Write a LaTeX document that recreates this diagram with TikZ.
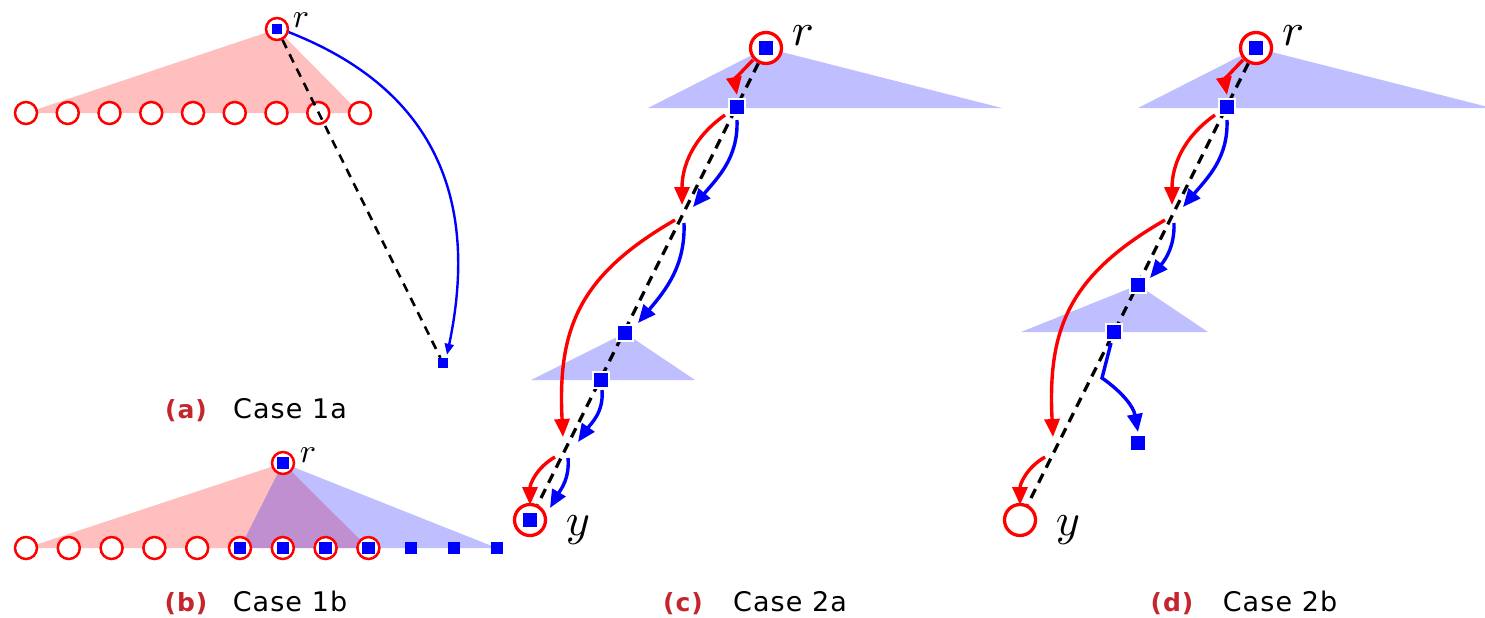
\documentclass[tikz,border=0pt]{standalone}
\usepackage{fontspec}
\newfontfamily\capfont[LetterSpace=4]{DejaVu Sans}
\usetikzlibrary{arrows.meta}
\definecolor{capred}{RGB}{196,38,45}
\pgfdeclarelayer{bg}
\pgfdeclarelayer{mid}
\pgfsetlayers{bg,mid,main}
\tikzset{
  leaf/.style={circle,draw=red,line width=2.5pt,fill=white,minimum size=22pt,inner sep=0pt},
  sqs/.style={rectangle,fill=blue,minimum size=12.5pt,inner sep=0pt},
  sqa/.style={rectangle,fill=blue,minimum size=10pt,inner sep=0pt},
  bsq/.style={rectangle,fill=blue,draw=white,line width=1.8pt,minimum size=15.5pt,inner sep=0pt},
  bigc/.style={circle,draw=red,line width=3.3pt,fill=white,minimum size=31pt,inner sep=0pt},
  dline/.style={draw=black,line width=3.2pt,dash pattern=on 10pt off 7pt},
  dlinea/.style={draw=black,line width=2.6pt,dash pattern=on 9pt off 7pt},
  redar/.style={draw=red,line width=3.4pt,-{Triangle[length=18pt,width=15pt]}},
  bluar/.style={draw=blue,line width=3.4pt,-{Triangle[length=18pt,width=15pt]}},
  bluthin/.style={draw=blue,line width=2.4pt,-{Triangle[length=11pt,width=9pt]}},
  pinktri/.style={fill=red,fill opacity=0.25},
  bluetri/.style={fill=blue,fill opacity=0.25},
  lblsmall/.style={scale=3.4,inner sep=0pt},
  lblbig/.style={scale=4.6,inner sep=0pt},
  capl/.style={font=\capfont\bfseries\fontsize{25}{25}\selectfont,text=capred,anchor=base,inner sep=0pt},
  capt/.style={font=\capfont\fontsize{27}{27}\selectfont,text=black,anchor=base,inner sep=0pt}
}
\begin{document}
\begin{tikzpicture}[x=1pt,y=1pt]
\useasboundingbox (0,0) rectangle (1485,-618);

% ---------------- (a) ----------------
\foreach \i in {0,...,8} \node[leaf] (la\i) at ({26+41.75*\i},-113) {};
\node[leaf] (rootA) at (277,-29) {};
\node[sqa] (rootAs) at (rootA) {};
\node[sqa] (endA) at (443,-363) {};
\node[lblsmall] (rA) at (301,-20) {$r$};
\begin{pgfonlayer}{bg}
  \fill[pinktri] (la0.center) -- (rootA.center) -- (la8.center) -- cycle;
\end{pgfonlayer}
\draw[dlinea] (rootA) -- (endA);
\draw[bluthin] (rootA.-15) .. controls (385,-70) and (490,-150) .. ([shift={(4,3)}]endA.north);
\node[capl] (capa1) at (186,-418) {(a)};
\node[capt] (capa2) at (290,-418) {Case 1a};

% ---------------- (b) ----------------
\foreach \i in {0,...,8} \node[leaf] (lb\i) at ({26+42.8*\i},-548) {};
\foreach \i in {5,...,8} \node[sqs] (lbs\i) at (lb\i) {};
\foreach \i in {9,10,11} \node[sqs] (lb\i) at ({26+42.8*\i},-548) {};
\node[leaf] (rootB) at (283,-463) {};
\node[sqs] (rootBs) at (rootB) {};
\node[lblsmall] (rB) at (308,-455) {$r$};
\begin{pgfonlayer}{bg}
  \fill[pinktri] (lb0.center) -- (rootB.center) -- (lb8.center) -- cycle;
  \fill[bluetri] (lb5.center) -- (rootB.center) -- (lb11.center) -- cycle;
\end{pgfonlayer}
\node[capl] (capb1) at (186,-611) {(b)};
\node[capt] (capb2) at (290,-611) {Case 1b};

% ---------------- (c) ----------------
\node[bigc] (rootC) at (766,-48) {};
\node[bsq] (rootCs) at (rootC) {};
\node[bsq] (s1C) at (737,-107) {};
\coordinate (p2C) at (683,-213);
\node[bsq] (s3C) at (625,-333) {};
\node[bsq] (s4C) at (601,-380) {};
\coordinate (p5C) at (566,-447);
\node[bigc] (yC) at (530,-520) {};
\node[bsq] (yCs) at (yC) {};
\node[lblbig] (rC) at (803,-36) {$r$};
\node[lblbig] (yCl) at (578,-530) {$y$};
\begin{pgfonlayer}{bg}
  \fill[bluetri] (648,-108) -- (rootC.center) -- (1002,-108) -- cycle;
  \fill[bluetri] (531,-380) -- (s3C.center) -- (695,-380) -- cycle;
\end{pgfonlayer}
\begin{pgfonlayer}{mid}
  \draw[dline] (rootC) -- (yC);
  \draw[redar] ([shift={(-13,-12)}]rootC.center) to[out=-135,in=100] ([shift={(0,12)}]s1C.center);
  \draw[redar] ([shift={(-12,-8)}]s1C.center) to[out=-145,in=90] ([shift={(-1,8)}]p2C);
  \draw[bluar] ([shift={(0,-13)}]s1C.center) to[out=-88,in=50] ([shift={(10,6)}]p2C);
  \draw[bluar] ([shift={(1,-10)}]p2C) to[out=-88,in=50] ([shift={(13,10)}]s3C.center);
  \draw[redar] ([shift={(-8,-7)}]p2C) to[out=-150,in=93,looseness=1.15] ([shift={(-3,10)}]p5C);
  \draw[bluar] ([shift={(1,-10)}]s4C.center) to[out=-85,in=55] ([shift={(12,5)}]p5C);
  \draw[redar] ([shift={(-11,-10)}]p5C) to[out=-150,in=90] ([shift={(0,15)}]yC.center);
  \draw[bluar] ([shift={(2,-11)}]p5C) to[out=-85,in=60] ([shift={(20,12)}]yC.center);
\end{pgfonlayer}
\node[capl] (capc1) at (683,-611) {(c)};
\node[capt] (capc2) at (790,-611) {Case 2a};

% ---------------- (d) ----------------
\node[bigc] (rootD) at (1256,-48) {};
\node[bsq] (rootDs) at (rootD) {};
\node[bsq] (s1D) at (1227,-107) {};
\coordinate (p2D) at (1173,-213);
\node[bsq] (s3D) at (1138,-285) {};
\node[bsq] (s4D) at (1114,-332) {};
\coordinate (p5D) at (1056,-447);
\coordinate (bendD) at (1102,-378);
\node[bsq] (endD) at (1138,-443) {};
\node[bigc] (yD) at (1020,-520) {};
\node[lblbig] (rD) at (1293,-36) {$r$};
\node[lblbig] (yDl) at (1068,-530) {$y$};
\begin{pgfonlayer}{bg}
  \fill[bluetri] (1138,-108) -- (rootD.center) -- (1492,-108) -- cycle;
  \fill[bluetri] (1021,-332) -- (s3D.center) -- (1208,-332) -- cycle;
\end{pgfonlayer}
\begin{pgfonlayer}{mid}
  \draw[dline] (rootD) -- (yD);
  \draw[redar] ([shift={(-13,-12)}]rootD.center) to[out=-135,in=100] ([shift={(0,12)}]s1D.center);
  \draw[redar] ([shift={(-12,-8)}]s1D.center) to[out=-145,in=90] ([shift={(-1,8)}]p2D);
  \draw[bluar] ([shift={(0,-13)}]s1D.center) to[out=-88,in=50] ([shift={(10,6)}]p2D);
  \draw[bluar] ([shift={(1,-10)}]p2D) to[out=-88,in=50] ([shift={(12,7)}]s3D.center);
  \draw[redar] ([shift={(-8,-7)}]p2D) to[out=-150,in=93,looseness=1.15] ([shift={(-3,10)}]p5D);
  \draw[redar] ([shift={(-11,-10)}]p5D) to[out=-150,in=90] ([shift={(0,15)}]yD.center);
  \draw[bluar] ([shift={(-3,-11)}]s4D.center) -- (bendD) to[out=-35,in=100] ([shift={(0,11)}]endD.center);
\end{pgfonlayer}
\node[capl] (capd1) at (1172,-611) {(d)};
\node[capt] (capd2) at (1280,-611) {Case 2b};
\end{tikzpicture}
\end{document}
